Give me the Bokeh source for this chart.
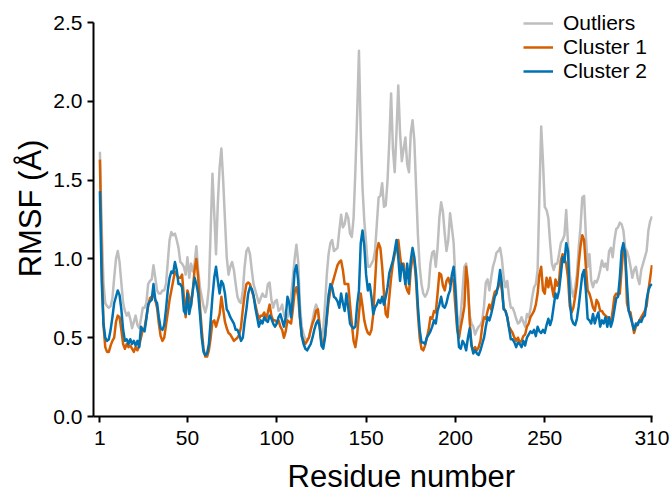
from bokeh.plotting import figure
from bokeh.models import FixedTicker, Legend, LegendItem, Title, Range1d
from bokeh.embed import file_html
from bokeh.resources import INLINE

residues = list(range(1, 311))

outliers = [
    1.68, 1.20, 0.85, 0.72, 0.70, 0.69, 0.70, 0.75, 0.88, 1.00,
    1.05, 0.98, 0.85, 0.72, 0.67, 0.64, 0.66, 0.62, 0.56, 0.60,
    0.64, 0.58, 0.56, 0.62, 0.69, 0.69, 0.72, 0.84, 0.86, 0.87,
    0.96, 0.88, 0.80, 0.78, 0.78, 0.80, 0.80, 0.84, 0.98, 1.12,
    1.17, 1.15, 1.16, 1.12, 1.07, 0.98, 0.97, 0.95, 0.90, 1.01,
    0.88, 0.97, 0.92, 0.97, 1.08, 0.93, 0.82, 0.76, 0.70, 0.66,
    0.71, 0.82, 1.18, 1.54, 1.29, 1.03, 1.35, 1.58, 1.70, 1.50,
    1.25, 1.01, 0.90, 0.95, 0.98, 0.93, 0.84, 0.76, 0.73, 0.72,
    0.80, 0.95, 1.05, 1.07, 1.03, 0.93, 0.84, 0.80, 0.76, 0.72,
    0.75, 0.78, 0.76, 0.76, 0.84, 0.85, 0.74, 0.69, 0.73, 0.74,
    0.67, 0.68, 0.71, 0.65, 0.61, 0.63, 0.67, 0.76, 0.88, 1.00,
    1.09, 0.98, 0.70, 0.57, 0.52, 0.49, 0.49, 0.50, 0.55, 0.61,
    0.67, 0.71, 0.68, 0.57, 0.47, 0.55, 0.71, 0.90, 1.03, 1.10,
    1.12, 1.05, 1.06, 1.07, 1.18, 1.28, 1.20, 1.22, 1.29, 1.26,
    1.16, 1.14, 1.26, 1.56, 1.92, 2.32, 1.80, 1.45, 1.24, 1.10,
    0.95, 0.95, 0.97, 0.99, 1.05, 1.22, 1.39, 1.40, 1.48, 1.33,
    1.34, 1.50, 1.75, 2.05, 1.70, 1.55, 1.80, 2.10, 1.80, 1.62,
    1.70, 1.77, 1.60, 1.55, 1.80, 1.88, 1.75, 1.45, 1.15, 0.95,
    0.84, 0.78, 0.76, 0.78, 0.82, 0.97, 1.04, 1.05, 0.95, 1.07,
    1.26, 1.36, 1.30, 1.16, 1.05, 1.12, 1.29, 1.20, 1.10, 0.86,
    0.65, 0.57, 0.65, 0.80, 0.95, 0.97, 0.80, 0.64, 0.59, 0.57,
    0.52, 0.55, 0.57, 0.58, 0.61, 0.70, 0.85, 0.87, 0.80, 0.88,
    0.95, 0.99, 1.04, 1.05, 1.07, 1.00, 0.88, 0.82, 0.86, 0.76,
    0.69, 0.69, 0.66, 0.62, 0.59, 0.60, 0.63, 0.60, 0.57, 0.65,
    0.63, 0.68, 0.76, 0.82, 0.84, 0.93, 1.40, 1.84, 1.62, 1.33,
    1.31, 1.26, 1.10, 0.97, 0.93, 0.97, 0.97, 1.03, 1.10, 1.12,
    1.15, 1.31, 1.10, 0.90, 0.80, 0.76, 0.82, 0.90, 1.07, 1.20,
    1.39, 1.40, 1.15, 0.95, 1.03, 0.86, 0.82, 0.86, 0.85, 0.88,
    0.93, 0.99, 0.95, 0.97, 0.93, 1.05, 1.07, 1.01, 1.12, 1.19,
    1.20, 1.23, 1.22, 1.18, 1.07, 1.05, 1.01, 0.95, 0.88, 0.93,
    0.95, 0.88, 0.84, 0.93, 0.97, 1.01, 1.05, 1.18, 1.24, 1.27,
]

cluster1 = [
    1.63, 1.00, 0.58, 0.44, 0.41, 0.41, 0.45, 0.48, 0.50, 0.60,
    0.64, 0.63, 0.55, 0.46, 0.43, 0.46, 0.44, 0.45, 0.43, 0.41,
    0.44, 0.42, 0.45, 0.50, 0.55, 0.56, 0.63, 0.70, 0.75, 0.76,
    0.78, 0.74, 0.69, 0.59, 0.51, 0.48, 0.50, 0.58, 0.66, 0.74,
    0.80, 0.86, 0.92, 0.90, 0.88, 0.88, 0.90, 0.76, 0.63, 0.80,
    0.76, 0.70, 0.80, 0.93, 1.00, 0.88, 0.70, 0.55, 0.43, 0.38,
    0.38, 0.42, 0.50, 0.60, 0.61, 0.57, 0.61, 0.65, 0.76, 0.68,
    0.60, 0.56, 0.53, 0.52, 0.50, 0.48, 0.49, 0.50, 0.52, 0.57,
    0.68, 0.77, 0.84, 0.85, 0.84, 0.80, 0.76, 0.71, 0.66, 0.62,
    0.64, 0.64, 0.66, 0.62, 0.66, 0.71, 0.64, 0.61, 0.61, 0.60,
    0.61, 0.57, 0.55, 0.50, 0.54, 0.61, 0.60, 0.59, 0.68, 0.79,
    0.82, 0.76, 0.62, 0.51, 0.48, 0.46, 0.48, 0.50, 0.55, 0.59,
    0.62, 0.67, 0.68, 0.58, 0.47, 0.46, 0.51, 0.62, 0.73, 0.80,
    0.84, 0.88, 0.92, 0.96, 0.98, 0.99, 0.93, 0.84, 0.84, 0.84,
    0.71, 0.59, 0.48, 0.44, 0.52, 0.65, 0.78, 0.70, 0.61, 0.56,
    0.53, 0.52, 0.55, 0.65, 0.85, 1.05, 1.10, 1.07, 0.95, 0.78,
    0.65, 0.63, 0.76, 0.88, 0.97, 1.03, 1.07, 1.12, 1.02, 0.93,
    0.97, 0.84, 0.80, 0.78, 0.93, 1.01, 0.99, 0.85, 0.65, 0.50,
    0.43, 0.42, 0.45, 0.50, 0.55, 0.63, 0.62, 0.67, 0.66, 0.78,
    0.91, 0.90, 0.83, 0.80, 0.86, 0.88, 0.84, 0.88, 0.85, 0.69,
    0.55, 0.50, 0.57, 0.63, 0.70, 0.95, 0.85, 0.60, 0.45, 0.42,
    0.44, 0.42, 0.44, 0.48, 0.57, 0.63, 0.62, 0.67, 0.71, 0.68,
    0.74, 0.79, 0.80, 0.82, 0.88, 0.80, 0.69, 0.67, 0.63, 0.57,
    0.55, 0.53, 0.50, 0.48, 0.50, 0.47, 0.48, 0.51, 0.52, 0.57,
    0.59, 0.63, 0.65, 0.67, 0.71, 0.78, 0.90, 0.95, 0.80, 0.78,
    0.88, 0.82, 0.88, 0.82, 0.76, 0.87, 0.83, 0.86, 0.99, 1.03,
    1.00, 0.97, 0.88, 0.70, 0.66, 0.69, 0.76, 0.84, 0.97, 1.08,
    1.15, 1.12, 0.95, 0.80, 0.78, 0.74, 0.69, 0.67, 0.74, 0.72,
    0.67, 0.67, 0.65, 0.64, 0.63, 0.62, 0.59, 0.67, 0.76, 0.78,
    0.77, 0.78, 0.93, 1.07, 1.05, 0.72, 0.67, 0.66, 0.59, 0.53,
    0.57, 0.59, 0.61, 0.63, 0.65, 0.67, 0.70, 0.80, 0.88, 0.96,
]

cluster2 = [
    1.43, 0.86, 0.59, 0.50, 0.48, 0.49, 0.55, 0.63, 0.72, 0.76,
    0.80, 0.77, 0.68, 0.55, 0.48, 0.49, 0.46, 0.49, 0.46, 0.48,
    0.45, 0.48, 0.44, 0.57, 0.55, 0.54, 0.62, 0.71, 0.73, 0.74,
    0.84, 0.74, 0.72, 0.63, 0.56, 0.55, 0.58, 0.68, 0.80, 0.88,
    0.92, 0.91, 0.98, 0.93, 0.84, 0.84, 0.82, 0.67, 0.65, 0.78,
    0.65, 0.71, 0.80, 0.88, 0.84, 0.78, 0.65, 0.50, 0.41, 0.39,
    0.40, 0.46, 0.61, 0.76, 0.88, 0.95, 0.86, 0.78, 0.86, 0.84,
    0.78, 0.68, 0.66, 0.63, 0.61, 0.59, 0.55, 0.55, 0.52, 0.48,
    0.50, 0.60, 0.68, 0.78, 0.82, 0.81, 0.77, 0.69, 0.63, 0.57,
    0.61, 0.59, 0.63, 0.61, 0.60, 0.64, 0.62, 0.59, 0.57, 0.59,
    0.63, 0.65, 0.61, 0.57, 0.63, 0.76, 0.72, 0.63, 0.76, 0.92,
    0.96, 0.86, 0.63, 0.51, 0.46, 0.43, 0.42, 0.44, 0.46, 0.50,
    0.55, 0.59, 0.61, 0.57, 0.45, 0.43, 0.50, 0.64, 0.77, 0.84,
    0.82, 0.76, 0.75, 0.73, 0.69, 0.78, 0.72, 0.67, 0.78, 0.69,
    0.59, 0.57, 0.56, 0.57, 0.71, 0.80, 1.10, 1.18, 1.08, 0.90,
    0.80, 0.84, 0.76, 0.65, 0.69, 0.71, 0.74, 0.72, 0.76, 0.71,
    0.76, 0.82, 0.91, 0.95, 0.99, 1.05, 1.12, 1.01, 0.86, 0.97,
    0.93, 0.84, 0.97, 0.84, 0.99, 1.07, 1.01, 0.90, 0.70, 0.55,
    0.47, 0.47, 0.46, 0.50, 0.52, 0.54, 0.57, 0.61, 0.59, 0.67,
    0.71, 0.76, 0.70, 0.69, 0.72, 0.77, 0.80, 0.90, 0.95, 0.80,
    0.58, 0.44, 0.43, 0.48, 0.46, 0.42, 0.50, 0.56, 0.45, 0.40,
    0.42, 0.40, 0.39, 0.42, 0.46, 0.50, 0.57, 0.63, 0.61, 0.65,
    0.70, 0.76, 0.78, 0.84, 0.93, 0.84, 0.68, 0.67, 0.63, 0.56,
    0.49, 0.49, 0.47, 0.44, 0.47, 0.46, 0.44, 0.48, 0.45, 0.50,
    0.52, 0.54, 0.53, 0.55, 0.51, 0.57, 0.54, 0.53, 0.55, 0.53,
    0.58, 0.62, 0.58, 0.62, 0.70, 0.78, 0.75, 0.80, 0.90, 1.01,
    0.98, 1.10, 1.05, 0.75, 0.62, 0.59, 0.58, 0.62, 0.70, 0.80,
    0.90, 0.93, 0.80, 0.62, 0.61, 0.59, 0.65, 0.59, 0.63, 0.66,
    0.57, 0.61, 0.59, 0.63, 0.57, 0.63, 0.57, 0.61, 0.68, 0.75,
    0.76, 0.88, 1.05, 1.10, 1.03, 0.84, 0.67, 0.63, 0.59, 0.55,
    0.59, 0.58, 0.61, 0.60, 0.63, 0.64, 0.74, 0.80, 0.83, 0.84,
]

series_names = ["Outliers", "Cluster 1", "Cluster 2"]
x_ticks = [1, 50, 100, 150, 200, 250, 310]
y_ticks = [0.0, 0.5, 1.0, 1.5, 2.0, 2.5]
y_tick_labels = ["0.0", "0.5", "1.0", "1.5", "2.0", "2.5"]
x_title = "Residue number"
y_title = "RMSF (Å)"

FONT = "Liberation Sans"
colors = ["#BEBEBE", "#D55E00", "#0072B2"]

# frame extends to the top edge of the canvas; the y axis line is bounded to 0..2.5
p = figure(width=671, height=493,
           x_range=Range1d(-2.58, 310.3), y_range=Range1d(0, 2.6396),
           output_backend="svg", toolbar_location=None,
           min_border_left=93, min_border_right=19,
           min_border_top=0, min_border_bottom=77)
p.grid.visible = False
p.outline_line_color = None
p.background_fill_color = "white"
p.border_fill_color = "white"

renderers = []
for ys, c in zip([outliers, cluster1, cluster2], colors):
    r = p.line(residues, ys, line_color=c, line_width=2.5, line_join="round")
    renderers.append(r)

for ax in (p.xaxis[0], p.yaxis[0]):
    ax.axis_line_width = 2
    ax.axis_line_color = "black"
    ax.major_tick_line_width = 2
    ax.major_tick_line_color = "black"
    ax.major_tick_out = 6
    ax.major_tick_in = 0
    ax.minor_tick_out = 0
    ax.minor_tick_in = 0
    ax.major_label_text_font = FONT
    ax.major_label_text_font_size = "21px"
    ax.major_label_text_color = "black"

p.xaxis.ticker = FixedTicker(ticks=x_ticks)
p.xaxis.major_label_standoff = 8
# blank spacer label pushes the title below a little further down
p.xaxis.axis_label = " "
p.xaxis.axis_label_text_font_size = "6px"
p.xaxis.axis_label_standoff = 0
p.yaxis.ticker = FixedTicker(ticks=y_ticks)
p.yaxis.bounds = (0, 2.5)
p.yaxis.major_label_overrides = {t: l for t, l in zip(y_ticks, y_tick_labels)}
p.yaxis.major_label_standoff = 5

p.yaxis.axis_label = y_title
p.yaxis.axis_label_text_font = FONT
p.yaxis.axis_label_text_font_size = "31px"
p.yaxis.axis_label_text_font_style = "normal"
p.yaxis.axis_label_text_color = "black"
p.yaxis.axis_label_standoff = 2

xt = Title(text=x_title, align="left", offset=194, standoff=0,
           text_font=FONT, text_font_size="31px", text_font_style="normal",
           text_color="black")
p.add_layout(xt, "below")

legend = Legend(items=[LegendItem(label=n, renderers=[r]) for n, r in zip(series_names, renderers)],
                location=(430, 333), border_line_color=None, background_fill_alpha=0,
                padding=0, margin=0, spacing=0, label_height=24, glyph_height=24,
                glyph_width=30, label_standoff=10,
                label_text_font=FONT, label_text_font_size="21px", label_text_color="black")
p.add_layout(legend)

open("out.html", "w").write(file_html(p, INLINE))
